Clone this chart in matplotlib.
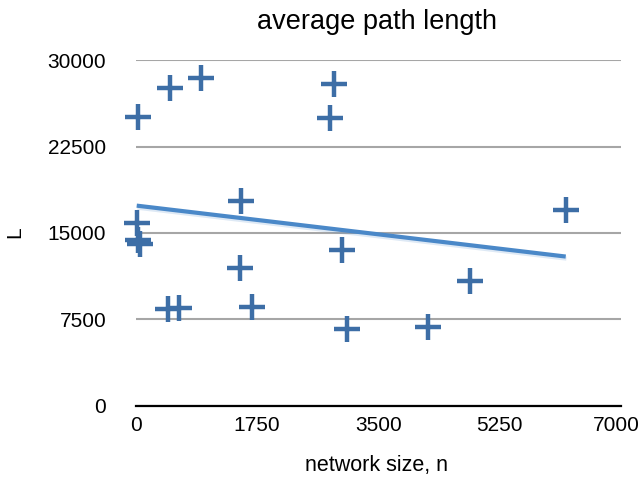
from matplotlib import pyplot as plt
from matplotlib import patheffects as pe
from matplotlib import transforms
import numpy as np

plt.rcParams['font.family'] = ['Liberation Sans', 'DejaVu Sans']

# network size n and average path length L
network_size = [32, 493, 940, 2858, 2805, 17, 29, 65, 1526,
                1511, 464, 623, 1676, 2982, 3050, 4214, 4823, 6203]
path_length = [25033, 27600, 28415, 27947, 24972, 15894, 14394, 14047, 17802,
               11940, 8411, 8472, 8610, 13483, 6703, 6876, 10839, 16995]

x_ticks = [0, 1750, 3500, 5250, 7000]
y_ticks = [0, 7500, 15000, 22500, 30000]

marker_color = '#3d6ea6'
line_color = '#4a88c8'

x = np.array(network_size)
y = np.array(path_length)

fig = plt.figure(figsize=(6.42, 4.82), dpi=100)
ax = fig.add_axes([0.2111, 0.1577, 0.9673 - 0.2111, 0.8755 - 0.1577])

# linear trend line over the data range
slope, intercept = np.polyfit(x, y, 1)
xs = np.array([x.min(), x.max()])
ax.plot(xs, slope * xs + intercept, color=line_color, lw=3, zorder=3,
        solid_capstyle='butt',
        path_effects=[pe.SimpleLineShadow(offset=(0.5, -1.5), shadow_color=line_color, alpha=0.18),
                      pe.Normal()])

ax.plot(x, y, linestyle='none', marker='+', markersize=19,
        markeredgewidth=3.2, color=marker_color, zorder=4, clip_on=False)

ax.set_xlim(0, 7000)
ax.set_ylim(0, 30000)
ax.set_xticks(x_ticks)
ax.set_yticks(y_ticks)
ax.set_xticklabels([str(t) for t in x_ticks])
ax.set_yticklabels([str(t) for t in y_ticks])
ax.tick_params(axis='both', length=0, labelsize=15)
ax.tick_params(axis='y', pad=21)
ax.tick_params(axis='x', pad=7)

# keep the last x label inside the picture
last = ax.get_xticklabels()[-1]
last.set_horizontalalignment('right')
last.set_transform(last.get_transform() +
                   transforms.ScaledTranslation(19 / 100, 0, fig.dpi_scale_trans))

ax.grid(axis='y', color='#a6a6a6', lw=1.5)
ax.set_axisbelow(True)
for side in ['top', 'right', 'left']:
    ax.spines[side].set_visible(False)
ax.spines['bottom'].set_color('black')
ax.spines['bottom'].set_linewidth(1.6)
ax.spines['bottom'].set_zorder(2)

fig.text(0.587, 1 - 22 / 482, 'average path length', ha='center', va='center', fontsize=19.5)
fig.text(0.587, 1 - 466 / 482, 'network size, n', ha='center', va='center', fontsize=15.5)
fig.text(15 / 642, 1 - 232 / 482, 'L', ha='center', va='center', rotation=90, fontsize=15)

fig.savefig('out.png', dpi=100)
